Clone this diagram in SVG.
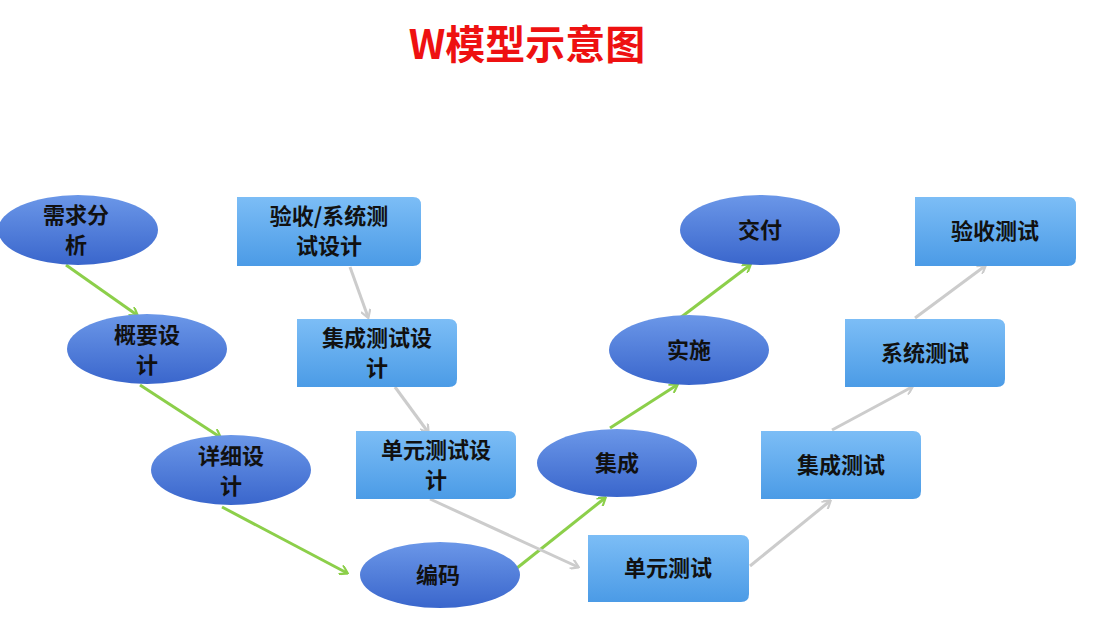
<svg xmlns="http://www.w3.org/2000/svg" width="1101" height="630" viewBox="0 0 1101 630">
<defs>
<linearGradient id="ge" x1="0" y1="0" x2="0" y2="1"><stop offset="0" stop-color="#6b97e8"/><stop offset="1" stop-color="#3a66cc"/></linearGradient>
<linearGradient id="gb" x1="0" y1="0" x2="0" y2="1"><stop offset="0" stop-color="#7cbdf6"/><stop offset="1" stop-color="#4b9be6"/></linearGradient>
<marker id="ag" markerWidth="10" markerHeight="10" refX="8" refY="5" orient="auto" markerUnits="userSpaceOnUse" viewBox="0 0 10 10"><path d="M1,0 L9,5 L1,10" fill="none" stroke="#8ccf4a" stroke-width="2.2"/></marker>
<marker id="ay" markerWidth="10" markerHeight="10" refX="8" refY="5" orient="auto" markerUnits="userSpaceOnUse" viewBox="0 0 10 10"><path d="M1,0 L9,5 L1,10" fill="none" stroke="#cccccc" stroke-width="2.2"/></marker>
</defs>
<style>
.e{fill:url(#ge)}
.b{fill:url(#gb)}
.t{font-family:"Noto Sans CJK SC",sans-serif;font-weight:bold;font-size:22px;fill:#111;text-anchor:middle}
.g{stroke:#8ccf4a;stroke-width:3;fill:none;marker-end:url(#ag)}
.y{stroke:#cccccc;stroke-width:3;fill:none;marker-end:url(#ay)}
</style>
<rect width="1101" height="630" fill="#fff"/>
<text x="527" y="59" font-family="Noto Sans CJK SC,sans-serif" font-weight="bold" font-size="40" fill="#ee1111" text-anchor="middle">W模型示意图</text>
<g id="connectors">
<line class="g" x1="66" y1="265" x2="137" y2="315"/>
<line class="g" x1="140" y1="385" x2="220" y2="437"/>
<line class="g" x1="222" y1="507" x2="347" y2="573"/>
<line class="g" x1="512" y1="572" x2="605" y2="498"/>
<line class="g" x1="610" y1="428" x2="677" y2="385"/>
<line class="g" x1="680" y1="318" x2="750" y2="265"/>
<line class="y" x1="350" y1="267" x2="368" y2="317"/>
<line class="y" x1="395" y1="387" x2="428" y2="432"/>
<line class="y" x1="430" y1="499" x2="578" y2="567"/>
<line class="y" x1="750" y1="566" x2="830" y2="501"/>
<line class="y" x1="832" y1="430" x2="912" y2="387"/>
<line class="y" x1="915" y1="318" x2="985" y2="266"/>
</g>
<g id="n1"><ellipse class="e" cx="78" cy="230" rx="80" ry="35"/><text class="t" x="76" y="223">需求分</text><text class="t" x="76" y="253">析</text></g>
<g id="n2"><ellipse class="e" cx="147" cy="349" rx="80" ry="35"/><text class="t" x="147" y="343">概要设</text><text class="t" x="147" y="373">计</text></g>
<g id="n3"><ellipse class="e" cx="231" cy="470" rx="80" ry="35"/><text class="t" x="231" y="464">详细设</text><text class="t" x="231" y="494">计</text></g>
<g id="n4"><ellipse class="e" cx="440" cy="575" rx="80" ry="33"/><text class="t" x="438" y="583">编码</text></g>
<g id="n5"><ellipse class="e" cx="617" cy="463" rx="80" ry="34"/><text class="t" x="617" y="471">集成</text></g>
<g id="n6"><ellipse class="e" cx="689" cy="350" rx="80" ry="35"/><text class="t" x="689" y="358">实施</text></g>
<g id="n7"><ellipse class="e" cx="760" cy="230" rx="80" ry="35"/><text class="t" x="760" y="238">交付</text></g>
<g id="b1"><path class="b" d="M237,197 H413 Q421,197 421,205 V258 Q421,266 413,266 H237 Z"/><text class="t" x="329" y="224">验收/系统测</text><text class="t" x="329" y="254">试设计</text></g>
<g id="b2"><path class="b" d="M297,319 H449 Q457,319 457,327 V379 Q457,387 449,387 H297 Z"/><text class="t" x="377" y="346">集成测试设</text><text class="t" x="377" y="376">计</text></g>
<g id="b3"><path class="b" d="M356,431 H508 Q516,431 516,439 V491 Q516,499 508,499 H356 Z"/><text class="t" x="436" y="458">单元测试设</text><text class="t" x="436" y="488">计</text></g>
<g id="b4"><path class="b" d="M588,535 H741 Q749,535 749,543 V594 Q749,602 741,602 H588 Z"/><text class="t" x="668" y="576">单元测试</text></g>
<g id="b5"><path class="b" d="M761,431 H913 Q921,431 921,439 V491 Q921,499 913,499 H761 Z"/><text class="t" x="841" y="473">集成测试</text></g>
<g id="b6"><path class="b" d="M845,319 H997 Q1005,319 1005,327 V379 Q1005,387 997,387 H845 Z"/><text class="t" x="925" y="361">系统测试</text></g>
<g id="b7"><path class="b" d="M915,197 H1068 Q1076,197 1076,205 V258 Q1076,266 1068,266 H915 Z"/><text class="t" x="995" y="239">验收测试</text></g>
</svg>
